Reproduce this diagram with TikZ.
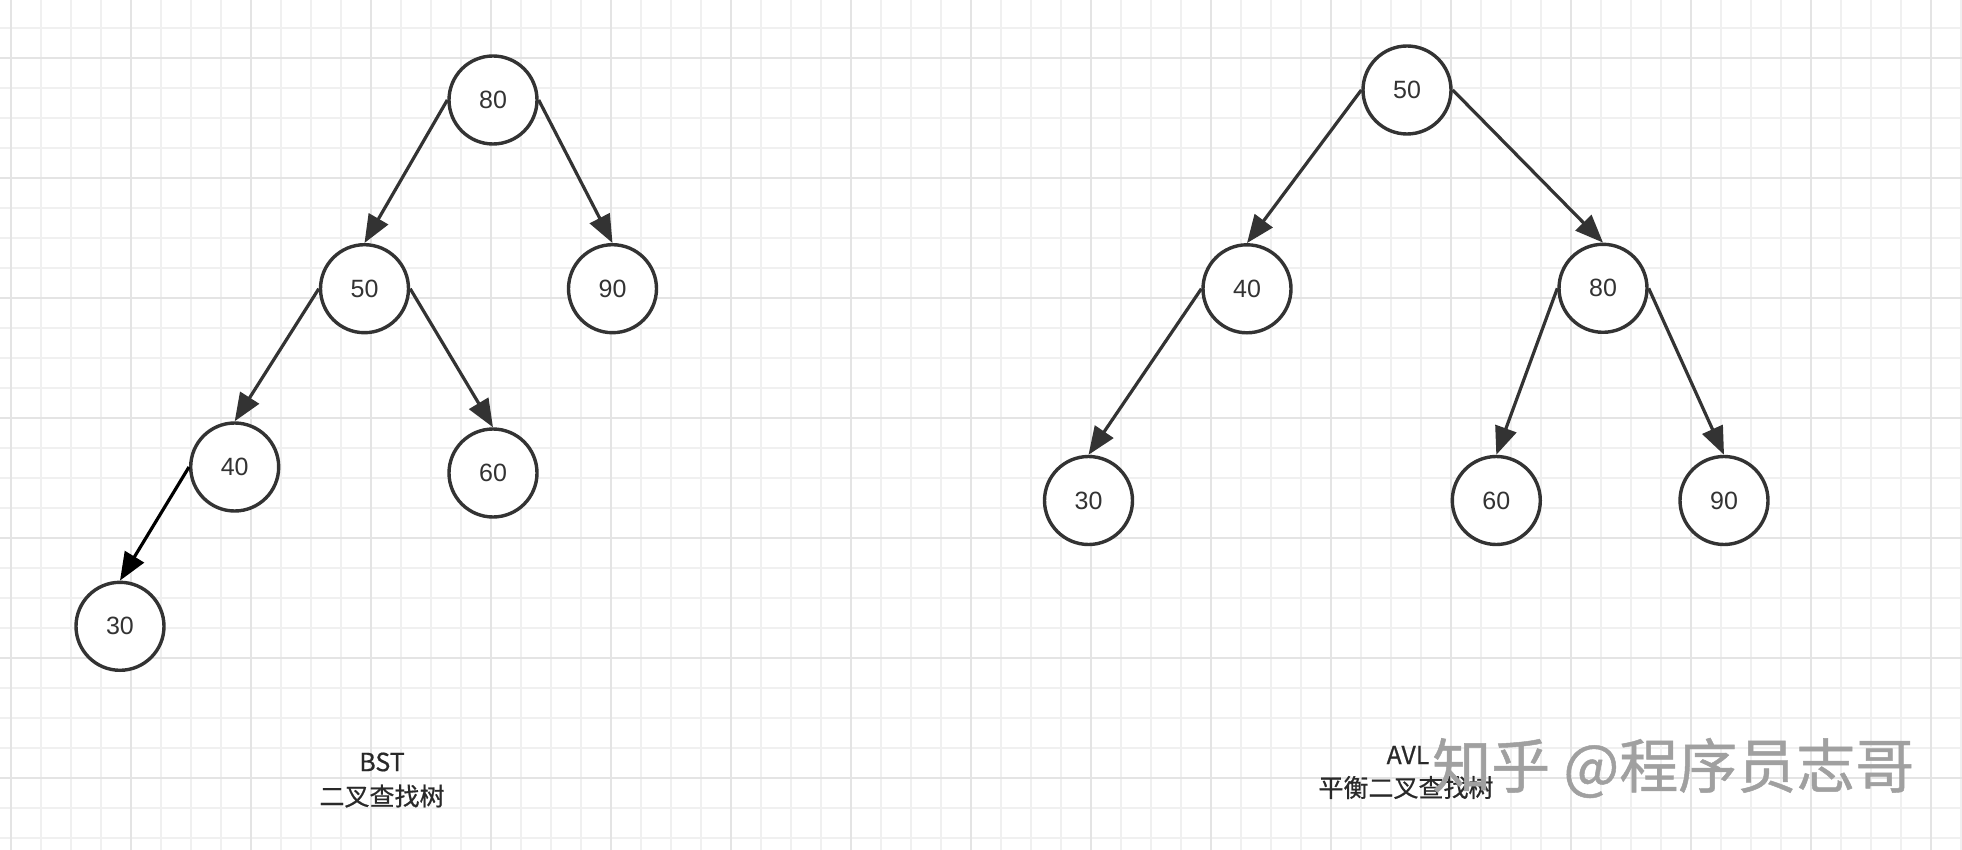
\documentclass[tikz,border=0pt]{standalone}
\usepackage{fontspec}
\setmainfont{Liberation Sans}
\newfontfamily\cjk[FakeBold=0.6]{Noto Sans CJK SC}
\newfontfamily\wmfont[FakeBold=0.8]{Noto Sans CJK SC}
\usetikzlibrary{arrows.meta}
\definecolor{ink}{HTML}{333333}
\definecolor{gridminor}{HTML}{F0F0F0}
\definecolor{gridmajor}{HTML}{E4E4E4}
\definecolor{wmgray}{HTML}{A0A0A0}
\begin{document}
\begin{tikzpicture}[x=1pt,y=-1pt,
  minorline/.style={draw=gridminor,line width=1.8pt},
  majorline/.style={draw=gridmajor,line width=2.2pt},
  treenode/.style={circle,draw=ink,line width=3.4pt,fill=white,minimum size=88pt,inner sep=0pt,
    text=ink,font=\fontsize{25}{25}\selectfont},
  edge/.style={draw=ink,line width=3.2pt,-{Triangle[length=28pt,width=22pt]}},
  darkedge/.style={edge,draw=black,fill=black},
  caption/.style={text=ink!80!black,inner sep=0pt,font=\cjk\fontsize{25}{25}\selectfont},
  watermark/.style={text=wmgray,inner sep=0pt,anchor=west,font=\wmfont\fontsize{59}{59}\selectfont}]
\fill[white] (0,0) rectangle (1962,850);
\useasboundingbox (0,0) rectangle (1962,850);
% grid
\foreach \k in {0,...,65} {\path[minorline] (11+30*\k,0) -- (11+30*\k,850);}
\foreach \k in {0,...,28} {\path[minorline] (0,-2+30*\k) -- (1962,-2+30*\k);}
\foreach \k in {0,...,16} {\path[majorline] (11+120*\k,0) -- (11+120*\k,850);}
\foreach \k in {0,...,6} {\path[majorline] (0,58+120*\k) -- (1962,58+120*\k);}
% left tree (BST)
\node[treenode] (l80) at (493,100) {80};
\node[treenode] (l50) at (364.5,288.7) {50};
\node[treenode] (l90) at (612.5,288.7) {90};
\node[treenode] (l40) at (234.7,467) {40};
\node[treenode] (l60) at (493,473) {60};
\node[treenode] (l30) at (120,626.3) {30};
\draw[edge] (l80.west) -- (l50.north);
\draw[edge] (l80.east) -- (l90.north);
\draw[edge] (l50.west) -- (l40.north);
\draw[edge] (l50.east) -- (l60.north);
\draw[darkedge] (l40.west) -- (l30.north);
% right tree (AVL)
\node[treenode] (r50) at (1407,90) {50};
\node[treenode] (r40) at (1247,288.8) {40};
\node[treenode] (r80) at (1603,288.3) {80};
\node[treenode] (r30) at (1088.5,500.5) {30};
\node[treenode] (r60) at (1496.3,500.5) {60};
\node[treenode] (r90) at (1724,500.5) {90};
\draw[edge] (r50.west) -- (r40.north);
\draw[edge] (r50.east) -- (r80.north);
\draw[edge] (r40.west) -- (r30.north);
\draw[edge] (r80.west) -- (r60.north);
\draw[edge] (r80.east) -- (r90.north);
% captions
\node[caption] (bst) at (382,762) {BST};
\node[caption] (bstcn) at (382,796) {二叉查找树};
\node[caption] (avl) at (1408,755) {AVL};
\node[caption] (avlcn) at (1406,787.5) {平衡二叉查找树};
% watermark
\node[watermark] (wm) at (1432,768) {知乎 @程序员志哥};
\end{tikzpicture}
\end{document}
